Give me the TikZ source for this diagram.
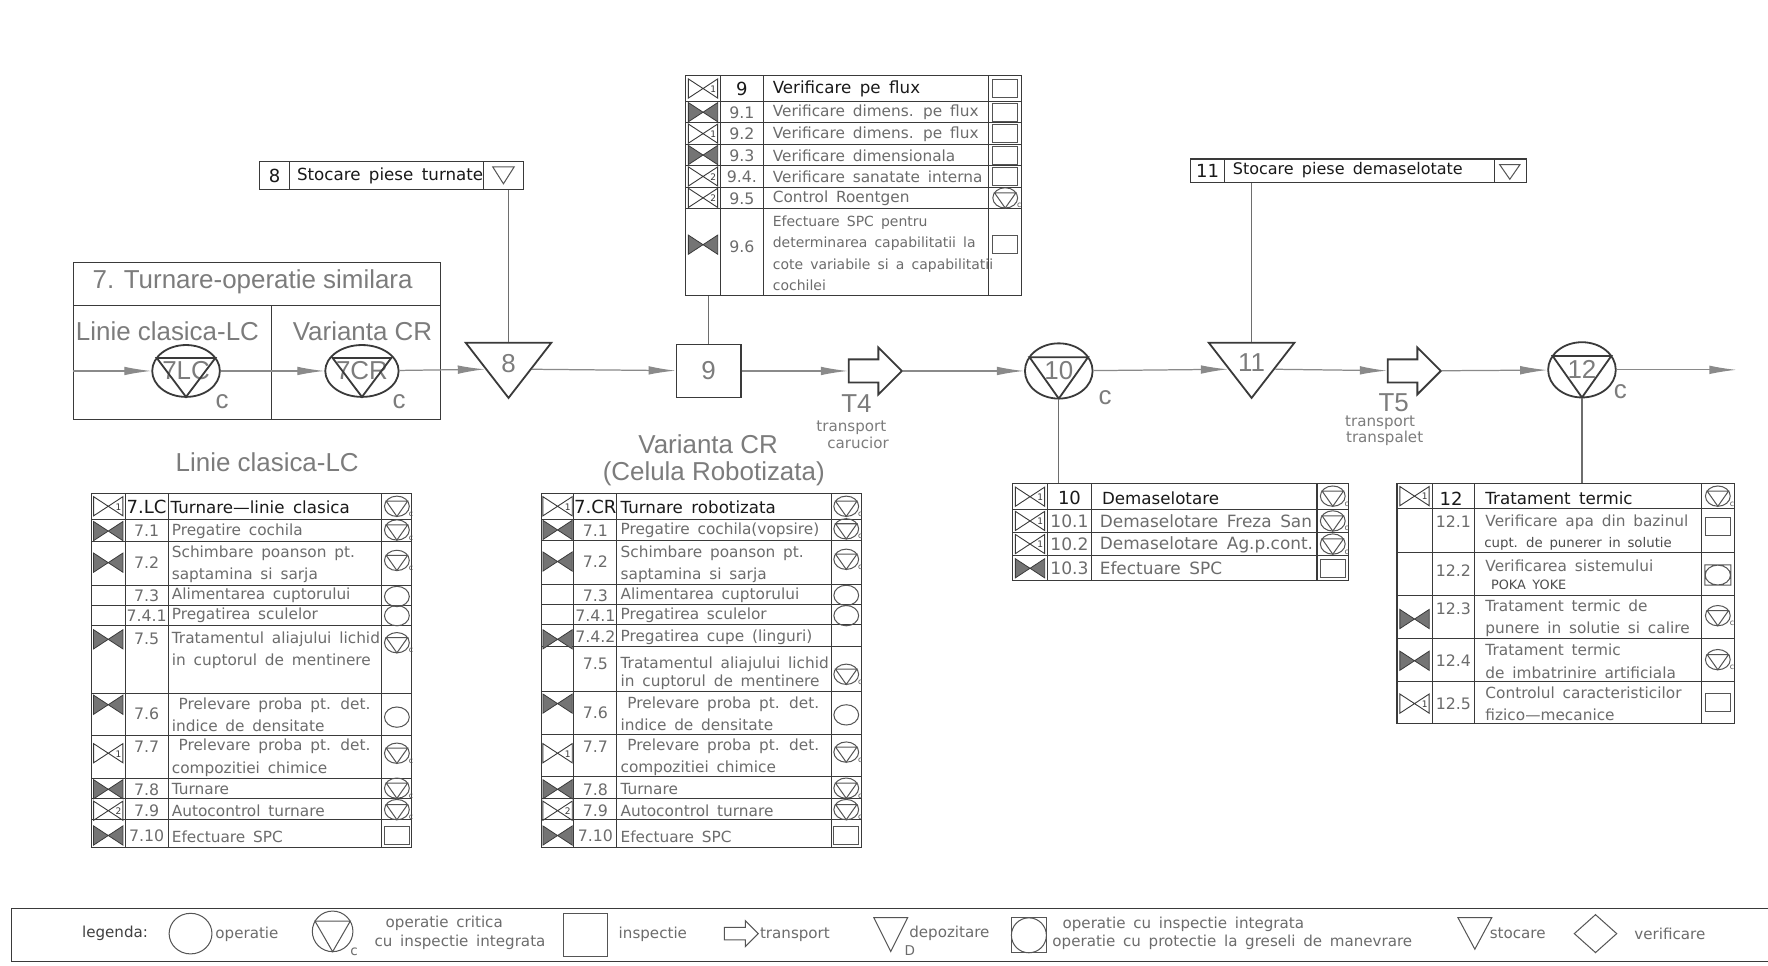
\documentclass[tikz,border=0pt]{standalone}
\usepackage{fontspec}
\setmainfont{Liberation Sans}
\newfontfamily\cadfont[WordSpace=1.6]{DejaVu Sans}
\usetikzlibrary{arrows.meta,calc,shapes.geometric,shapes.arrows}

\definecolor{linedark}{HTML}{3A3A3A}
\definecolor{flowgray}{HTML}{8A8A8A}
\definecolor{txgray}{HTML}{6C6C6C}
\definecolor{biggray}{HTML}{7C7C7C}
\definecolor{bowgray}{HTML}{747474}
\definecolor{symgray}{HTML}{555555}

\tikzset{
  tabline/.style={draw=linedark, line width=0.45pt},
  tabframe/.style={rectangle, draw=linedark, line width=0.5pt, inner sep=0},
  critline/.style={draw=linedark, line width=0.8pt},
  symline/.style={draw=symgray, line width=0.45pt},
  legsym/.style={draw=symgray, line width=0.45pt, inner sep=0},
  flow/.style={draw=flowgray, line width=0.55pt, -{Latex[length=12pt,width=3.8pt]}},
  link/.style={draw=flowgray!80!black, line width=0.5pt},
  bigtxt/.style={font=\fontsize{11.5}{13}\selectfont, text=biggray, inner sep=0},
  cell/.style={font=\cadfont\fontsize{6.8}{9.8}\selectfont, text=txgray, inner sep=0, anchor=west, align=left},
  cellsmall/.style={font=\cadfont\fontsize{5.9}{7}\selectfont, text=black!70, inner sep=0, anchor=west},
  headcell/.style={font=\cadfont\fontsize{7.4}{9}\selectfont, text=black!90, inner sep=0, anchor=west},
  numcell/.style={font=\cadfont\fontsize{7}{8}\selectfont, text=txgray, inner sep=0},
  headnum/.style={font=\cadfont\fontsize{8}{9}\selectfont, text=black!90, inner sep=0},
  legtxt/.style={font=\cadfont\fontsize{6.7}{8}\selectfont, text=txgray, inner sep=0},
  critop/.style={ellipse, critline, inner sep=0, minimum width=30pt, minimum height=23pt,
    font=\fontsize{11.5}{13}\selectfont, text=biggray},
  store/.style={isosceles triangle, isosceles triangle stretches=true, shape border rotate=270,
    critline, inner sep=0, minimum width=38pt, minimum height=24.5pt},
  insp/.style={rectangle, critline, inner sep=0, minimum width=28.5pt, minimum height=23.5pt,
    font=\fontsize{11.5}{13}\selectfont, text=biggray},
  move/.style={single arrow, critline, inner sep=0, inner ysep=4.75pt,
    single arrow head extend=5.25pt, minimum height=23.5pt},
}

% table symbols, #1 = centre
\newcommand{\icofill}[1]{%
  \begin{scope}[shift={(#1)}]
    \filldraw[draw=linedark, fill=bowgray, line width=0.35pt] (-13,-8.5) -- (-13,8.5) -- (0,0) -- cycle
      (13,-8.5) -- (13,8.5) -- (0,0) -- cycle;
  \end{scope}}
\newcommand{\icoopen}[2]{%
  \begin{scope}[shift={(#1)}]
    \draw[draw=linedark, line width=0.4pt] (-13,-8.5) -- (-13,8.5) -- (0,0) -- cycle
      (13,-8.5) -- (13,8.5) -- (0,0) -- cycle;
    \node[font=\cadfont\fontsize{4}{4}\selectfont, text=linedark, inner sep=0] (icodigit) at (9,0.5) {#2};
  \end{scope}}
\newcommand{\symcrit}[1]{%
  \begin{scope}[shift={(#1)}]
    \draw[symline] (0,0) ellipse [x radius=5.5pt, y radius=4.5pt];
    \draw[symline] (-9.5,-4.5) -- (9.5,-4.5) -- (0,9) -- cycle;
    \node[font=\cadfont\fontsize{3.5}{3.5}\selectfont, text=symgray, inner sep=0] (critc) at (12.5,7) {c};
  \end{scope}}
\newcommand{\symop}[1]{%
  \draw[symline, shift={(#1)}] (0,0) ellipse [x radius=5.5pt, y radius=4.5pt];}
\newcommand{\syminsp}[1]{%
  \draw[symline, shift={(#1)}] (-11,-8) rectangle (11,8);}
\newcommand{\symintg}[1]{%
  \draw[symline, shift={(#1)}] (-11.5,-9) rectangle (11.5,9) (0,0) ellipse [x radius=5.6pt, y radius=4.4pt];}
% triangle inside a critical operation node
\newcommand{\crittri}[4][critline]{%
  \draw[#1] ($(#2.center)+({-0.866*#3},{-0.5*#4})$) -- ($(#2.center)+({0.866*#3},{-0.5*#4})$)
    -- ($(#2.center)+(0,#4)$) -- cycle;}

\begin{document}
\begin{tikzpicture}[x=0.5pt,y=-0.5pt]
\useasboundingbox (0,0) rectangle (1568,856);
\fill[white] (0,0) rectangle (1568,856);

% 7 - casting, two variants
\node[tabframe, minimum width=163pt, minimum height=69.5pt] (fr7) at (228,302.5) {};
\draw[tabline] (65,271) -- (391,271) (241,271) -- (241,372);
\node[bigtxt] (t7title) at (224,250) {7. Turnare-operatie similara};
\node[bigtxt] (t7lc) at (148.5,294) {Linie clasica-LC};
\node[bigtxt] (t7cr) at (321.5,294) {Varianta CR};
\node[critop] (op7lc) at (165,329) {7LC};
\crittri{op7lc}{30}{23}
\node[critop] (op7cr) at (321,329) {7CR};
\crittri{op7cr}{30}{23}
\node[bigtxt] (c7lc) at (197,356) {c};
\node[bigtxt] (c7cr) at (354,356) {c};

% 8 - storage
\node[store, anchor=apex] (st8) at (451,355) {};
\node[bigtxt] (n8) at (451,322) {8};
\node[tabframe, minimum width=117pt, minimum height=12.5pt] (lbl8) at (347,155.5) {};
\draw[tabline] (257,143) -- (257,168) (429,143) -- (429,168);
\node[headnum] (lbl8n) at (243.5,156) {8};
\node[headcell] (lbl8t) at (263,156) {Stocare piese turnate};
\draw[symline] (437,148) -- (456,148) -- (446.5,163) -- cycle;
\draw[link] (st8.lower side) -- (st8.lower side |- lbl8.south);

% 9 - inspection
\node[insp] (insp9) at (628.5,329) {9};
\node[tabframe, minimum width=149pt, minimum height=97.5pt] (tab9) at (757,164.5) {};
\draw[link] (insp9.north) -- (insp9.north |- tab9.south);

% T4
\node[move, anchor=tail] (t4) at (752,329) {};
\node[bigtxt] (t4n) at (759.5,358) {T4};
\node[legtxt, text=biggray] (t4a) at (755,379.5) {transport};
\node[legtxt, text=biggray] (t4b) at (761,392.5) {carucior};

% 10 - critical operation
\node[critop, minimum height=24.5pt] (op10) at (939,329) {10};
\crittri{op10}{30}{24.5}
\node[bigtxt] (c10) at (980,353) {c};
\node[tabframe, minimum width=149pt, minimum height=43pt] (tab10) at (1047,472) {};
\draw[link] (op10.south) -- (op10.south |- tab10.north);

% 11 - storage
\node[store, anchor=apex] (st11) at (1110,355) {};
\node[bigtxt] (n11) at (1110,322) {11};
\node[tabframe, minimum width=149pt, minimum height=10.5pt] (lbl11) at (1205,151.5) {};
\draw[tabline] (1086,141) -- (1086,162) (1325,141) -- (1325,162);
\node[headnum] (lbl11n) at (1071,152) {11};
\node[headcell, font=\cadfont\fontsize{7.1}{9}\selectfont] (lbl11t) at (1093,151) {Stocare piese demaselotate};
\draw[symline] (1330,146) -- (1348,146) -- (1339,159) -- cycle;
\draw[link] (st11.lower side) -- (st11.lower side |- lbl11.south);

% T5
\node[move, anchor=tail] (t5) at (1230,329) {};
\node[bigtxt] (t5n) at (1236,357) {T5};
\node[legtxt, text=biggray] (t5a) at (1224,375) {transport};
\node[legtxt, text=biggray] (t5b) at (1228,389) {transpalet};

% 12 - critical operation
\node[critop, minimum height=24.5pt] (op12) at (1403,328) {12};
\crittri{op12}{30}{24.5}
\node[bigtxt] (c12) at (1437,347) {c};
\coordinate (flowend) at (1540,328);
\node[tabframe, minimum width=149.5pt, minimum height=106.5pt] (tab12) at (1388.5,535.5) {};
\draw[link] (op12.south) -- (op12.south |- tab12.north);

% flow
\draw[flow] (fr7.west |- op7lc) -- (op7lc);
\draw[flow] (op7lc) -- (op7cr);
\draw[flow] (op7cr) -- ($(st8.right corner)!0.47!(st8.apex)$);
\draw[flow] ($(st8.left corner)!0.47!(st8.apex)$) -- (insp9);
\draw[flow] (insp9) -- (t4);
\draw[flow] (t4) -- (op10);
\draw[flow] (op10) -- ($(st11.right corner)!0.47!(st11.apex)$);
\draw[flow] ($(st11.left corner)!0.47!(st11.apex)$) -- (t5);
\draw[flow] (t5) -- (op12);
\draw[flow] (op12) -- (flowend);

% captions
\node[bigtxt] (caplc) at (237,410) {Linie clasica-LC};
\node[bigtxt] (capcr) at (628,394) {Varianta CR};
\node[bigtxt] (capcr2) at (633,420.5) {(Celula Robotizata)};

% table 7.LC
\node[tabframe, minimum width=142pt, minimum height=157.25pt] (tablc) at (223,594.75) {};
\foreach \x in {111,149,338} \draw[tabline] (\x,437.5) -- (\x,752);
\foreach \y in {461,480,519,537,555,615,652,690,708,727} \draw[tabline] (81,\y) -- (365,\y);
\foreach \y in {471,499,567,625,700,741} \icofill{96,\y};
\foreach \y/\d in {449/1,668/1,719/2} \icoopen{96,\y}{\d};
\node[headnum] (lcn0) at (130,450) {7.LC};
\foreach \y/\t [count=\i] in {471/7.1,499/7.2,528/7.3,546/7.4.1,567/7.5,633/7.6,662/7.7,700/7.8,719/7.9,741/7.10}
  \node[numcell] (lcn\i) at (130,\y) {\t};
\node[headcell] (lct0) at (151,450) {Turnare—linie clasica};
\node[cell] (lct1) at (152,471) {Pregatire cochila};
\node[cell] (lct2) at (152,500.5) {Schimbare poanson pt.\\saptamina si sarja};
\node[cell] (lct3) at (152,528) {Alimentarea cuptorului};
\node[cell] (lct4) at (152,546) {Pregatirea sculelor};
\node[cell] (lct5) at (152,577) {Tratamentul aliajului lichid\\in cuptorul de mentinere};
\node[cell] (lct6) at (152,634) {\hspace*{3pt}Prelevare proba pt. det.\\indice de densitate};
\node[cell] (lct7) at (152,672) {\hspace*{3pt}Prelevare proba pt. det.\\compozitiei chimice};
\node[cell] (lct8) at (152,700) {Turnare};
\node[cell] (lct9) at (152,719) {Autocontrol turnare};
\node[cell] (lct10) at (152,742) {Efectuare SPC};
\foreach \y in {449,470,497,570,668,699,718} \symcrit{352,\y};
\foreach \y in {529,546,636} \symop{352,\y};
\syminsp{352,741}

% table 7.CR
\node[tabframe, minimum width=142pt, minimum height=157.25pt] (tabcr) at (622,594.75) {};
\foreach \x in {509,547,737} \draw[tabline] (\x,437.5) -- (\x,752);
\foreach \y in {461,479,518,536.5,554,573,613,651,689,708,726.5} \draw[tabline] (480,\y) -- (764,\y);
\foreach \y in {470,498,567,624,700,741} \icofill{494.5,\y};
\foreach \y/\d in {449/1,668/1,719/2} \icoopen{494.5,\y}{\d};
\node[headnum] (crn0) at (528,450) {7.CR};
\foreach \y/\t [count=\i] in {471/7.1,498/7.2,528/7.3,546/7.4.1,565/7.4.2,589/7.5,632/7.6,662/7.7,700/7.8,719/7.9,741/7.10}
  \node[numcell] (crn\i) at (528,\y) {\t};
\node[headcell] (crt0) at (550,450) {Turnare robotizata};
\node[cell] (crt1) at (550,470) {Pregatire cochila(vopsire)};
\node[cell] (crt2) at (550,500.5) {Schimbare poanson pt.\\saptamina si sarja};
\node[cell] (crt3) at (550,528) {Alimentarea cuptorului};
\node[cell] (crt4) at (550,546) {Pregatirea sculelor};
\node[cell] (crt5) at (550,565) {Pregatirea cupe (linguri)};
\node[cell, font=\cadfont\fontsize{6.8}{8.2}\selectfont] (crt6) at (550,597) {Tratamentul aliajului lichid\\in cuptorul de mentinere};
\node[cell] (crt7) at (550,633) {\hspace*{3pt}Prelevare proba pt. det.\\indice de densitate};
\node[cell] (crt8) at (550,671.5) {\hspace*{3pt}Prelevare proba pt. det.\\compozitiei chimice};
\node[cell] (crt9) at (550,700) {Turnare};
\node[cell] (crt10) at (550,719) {Autocontrol turnare};
\node[cell] (crt11) at (550,742) {Efectuare SPC};
\foreach \y in {449,469,496,598,667,699,718} \symcrit{750.5,\y};
\foreach \y in {528,546,634} \symop{750.5,\y};
\syminsp{750.5,741}

% table 9
\foreach \x in {639,677,877} \draw[tabline] (\x,67) -- (\x,262);
\foreach \y in {90,109,128,147,166,185} \draw[tabline] (608,\y) -- (906,\y);
\foreach \y in {99.5,137.5,217} \icofill{623.5,\y};
\foreach \y/\d in {78.5/1,118.5/1,156.5/2,175.5/2} \icoopen{623.5,\y}{\d};
\node[headnum] (t9n0) at (658,79) {9};
\foreach \y/\t [count=\i] in {100/9.1,119/9.2,138/9.3,157/9.4.,176/9.5,219/9.6}
  \node[numcell] (t9n\i) at (658,\y) {\t};
\node[headcell] (t9t0) at (685,79) {Verificare pe flux};
\node[cell] (t9t1) at (685,100) {Verificare dimens. pe flux};
\node[cell] (t9t2) at (685,119) {Verificare dimens. pe flux};
\node[cell] (t9t3) at (685,138) {Verificare dimensionala};
\node[cell] (t9t4) at (685,157) {Verificare sanatate interna};
\node[cell] (t9t5) at (685,176) {Control Roentgen};
\node[cell, font=\cadfont\fontsize{6.2}{9.5}\selectfont] (t9t6) at (685,224.5) {Efectuare SPC pentru\\determinarea capabilitatii la\\cote variabile si a capabilitatii\\cochilei};
\foreach \y in {78.5,99.5,118.5,137.5,156.5,217} \syminsp{891.5,\y};
\symcrit{891.5,175.5}

% table 10
\foreach \x in {929,968,1168} \draw[tabline] (\x,429) -- (\x,515);
\foreach \y in {452,472,493} \draw[tabline] (898,\y) -- (1196,\y);
\foreach \y in {440.5,462,482.5} \icoopen{913.5,\y}{1};
\icofill{913.5,504}
\node[headnum] (t10n0) at (948.5,442) {10};
\foreach \y/\t [count=\i] in {462/10.1,483/10.2,504/10.3}
  \node[numcell, font=\cadfont\fontsize{7.6}{8}\selectfont] (t10n\i) at (948.5,\y) {\t};
\node[headcell] (t10t0) at (977,442) {Demaselotare};
\node[cell, font=\cadfont\fontsize{7.5}{9}\selectfont] (t10t1) at (975,462) {Demaselotare Freza San};
\node[cell, font=\cadfont\fontsize{7.5}{9}\selectfont] (t10t2) at (975,483) {Demaselotare Ag.p.cont.};
\node[cell, font=\cadfont\fontsize{7.5}{9}\selectfont] (t10t3) at (975,504) {Efectuare SPC};
\foreach \y in {440,462,482.5} \symcrit{1182,\y};
\syminsp{1182,504}

% table 12
\foreach \x in {1270,1308,1509} \draw[tabline] (\x,429) -- (\x,642);
\foreach \y in {451,490,528,566,604} \draw[tabline] (1239,\y) -- (1538,\y);
\foreach \y in {549,586} \icofill{1254.5,\y};
\foreach \y in {440,624} \icoopen{1254.5,\y}{1};
\node[headnum] (t12n0) at (1287,442) {12};
\foreach \y/\t [count=\i] in {463/12.1,506/12.2,540/12.3,586/12.4,624/12.5}
  \node[numcell] (t12n\i) at (1289,\y) {\t};
\node[headcell] (t12t0) at (1317,442) {Tratament termic};
\node[cell] (t12t1) at (1317,463) {Verificare apa din bazinul};
\node[cellsmall] (t12t1b) at (1316,482) {cupt. de punerer in solutie};
\node[cell] (t12t2) at (1317,502) {Verificarea sistemului};
\node[cellsmall, font=\cadfont\fontsize{5.7}{7}\selectfont] (t12t2b) at (1322,519) {POKA YOKE};
\node[cell] (t12t3) at (1317,548.5) {Tratament termic de\\punere in solutie si calire};
\node[cell] (t12t4) at (1317,586.5) {Tratament termic\\de imbatrinire artificiala};
\node[cell] (t12t5) at (1317,624.5) {Controlul caracteristicilor\\fizico—mecanice};
\foreach \y in {440,546,585} \symcrit{1523.5,\y};
\foreach \y in {467,623} \syminsp{1523.5,\y};
\symintg{1523.5,510}

% legend
\draw[tabline] (10,853) -- (10,806) -- (1568,806) (10,853) -- (1568,853);
\node[legtxt, text=black!75] (legtitle) at (102,828) {legenda:};
\node[ellipse, legsym, minimum width=19pt, minimum height=18pt] (legop) at (169,828) {};
\node[legtxt] (legopt) at (219,829) {operatie};
\node[ellipse, legsym, minimum width=18pt, minimum height=18pt] (legcrit) at (295,826) {};
\crittri[legsym]{legcrit}{18}{18}
\node[legtxt, font=\cadfont\fontsize{6}{6}\selectfont] (legcritc) at (314,844) {c};
\node[legtxt] (legcritt) at (394,819) {operatie critica};
\node[legtxt] (legcritt2) at (408,836) {cu inspectie integrata};
\node[rectangle, legsym, minimum width=19.5pt, minimum height=19pt] (leginsp) at (519.5,829) {};
\node[legtxt] (leginspt) at (579,829) {inspectie};
\node[single arrow, legsym, inner ysep=2.5pt, single arrow head extend=3pt, minimum height=15pt, anchor=tail] (legmove) at (642,828) {};
\node[legtxt] (legmovet) at (705,829) {transport};
\node[isosceles triangle, isosceles triangle stretches=true, shape border rotate=270, legsym,
  minimum width=15pt, minimum height=15pt, anchor=apex] (legdep) at (790,845) {};
\node[legtxt, font=\cadfont\fontsize{6}{6}\selectfont] (legdepd) at (807,843) {D};
\node[legtxt] (legdept) at (842,828) {depozitare};
\node[rectangle, legsym, minimum width=15.5pt, minimum height=15.5pt] (legintg) at (912.5,829.5) {};
\node[ellipse, legsym, minimum width=15.5pt, minimum height=15.5pt] (legintgc) at (912.5,829.5) {};
\node[legtxt, anchor=west] (legintgt) at (942,820) {operatie cu inspectie integrata};
\node[legtxt, anchor=west] (legintgt2) at (933,836) {operatie cu protectie la greseli de manevrare};
\node[isosceles triangle, isosceles triangle stretches=true, shape border rotate=270, legsym,
  minimum width=15pt, minimum height=14pt, anchor=apex] (legsto) at (1308,843) {};
\node[legtxt] (legstot) at (1346,828) {stocare};
\node[diamond, legsym, minimum width=19pt, minimum height=17pt] (legver) at (1415,828) {};
\node[legtxt] (legvert) at (1481,828) {verificare};
\end{tikzpicture}
\end{document}
